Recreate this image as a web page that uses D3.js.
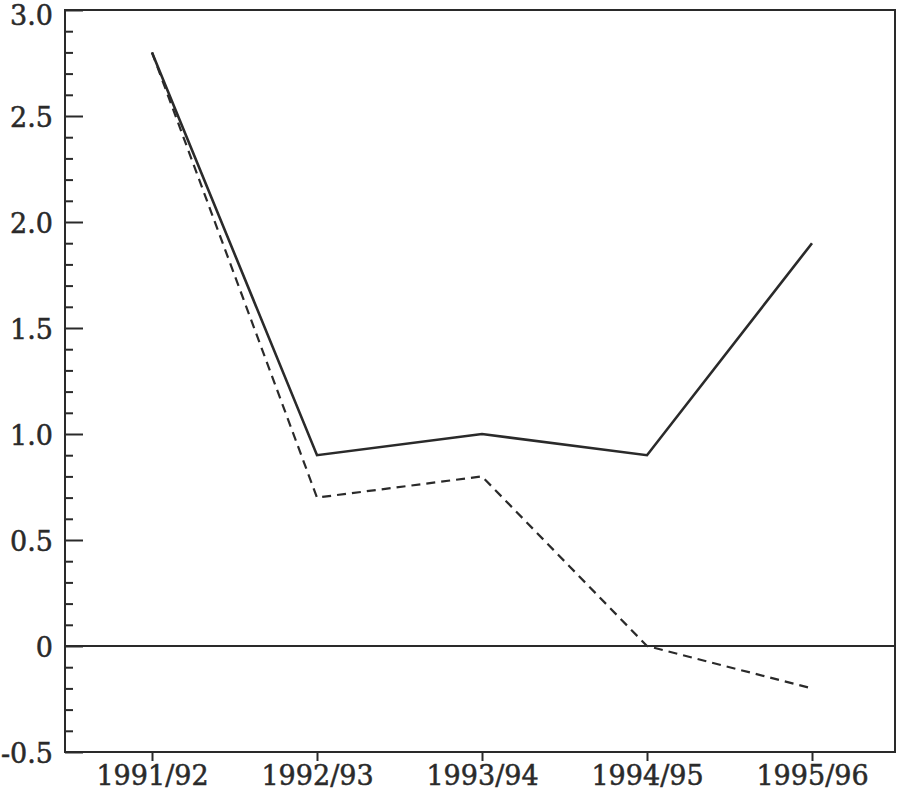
<!DOCTYPE html>
<html><head><meta charset="utf-8">
<script src="https://cdn.jsdelivr.net/npm/d3@7"></script>
<style>body{margin:0;background:#fff}svg{display:block}</style>
</head><body>
<svg id="c" width="897" height="797"></svg>
<script>
const categories = ["1991/92","1992/93","1993/94","1994/95","1995/96"];
const solidValues = [2.8, 0.9, 1.0, 0.9, 1.9];
const dashedValues = [2.8, 0.7, 0.8, 0.0, -0.2];
const yTickValues = [-0.5, 0, 0.5, 1.0, 1.5, 2.0, 2.5, 3.0];
const yTickLabels = ["-0.5","0","0.5","1.0","1.5","2.0","2.5","3.0"];

const svg = d3.select("#c");
const L = 65, R = 895, T = 10, B = 752;
const ink = "#2a2a2a";
const font = "'DejaVu Serif', serif";

const x = d3.scalePoint().domain(categories).range([152, 812]);
const y = d3.scaleLinear().domain([-0.5, 3.0]).range([B, T]);

// frame
svg.append("rect").attr("x", L).attr("y", T).attr("width", R - L).attr("height", B - T)
  .attr("fill", "none").attr("stroke", ink).attr("stroke-width", 2);

// y axis: major ticks inward with labels, minor ticks every 0.1
const yAxis = d3.axisRight(y).tickValues(yTickValues).tickSize(18)
  .tickFormat((d, i) => yTickLabels[i]);
const gy = svg.append("g").attr("transform", `translate(${L},0)`).call(yAxis);
gy.select(".domain").remove();
gy.selectAll(".tick line").attr("stroke", ink).attr("stroke-width", 2);
gy.selectAll(".tick text").attr("x", -12).attr("text-anchor", "end")
  .attr("font-family", font).attr("font-size", 27).attr("fill", ink)
  .attr("stroke", ink).attr("stroke-width", 0.5)
  .attr("dy", (d, i) => i === yTickValues.length - 1 ? "0.55em" : "0.4em");

const minor = d3.range(-4, 30).map(v => v / 10).filter(v => Math.abs(v * 2 - Math.round(v * 2)) > 1e-6);
const yMinor = d3.axisRight(y).tickValues(minor).tickSize(8).tickFormat("");
const gm = svg.append("g").attr("transform", `translate(${L},0)`).call(yMinor);
gm.select(".domain").remove();
gm.selectAll(".tick line").attr("stroke", ink).attr("stroke-width", 2);

// x axis: ticks outward
const xAxis = d3.axisBottom(x).tickSize(9).tickPadding(5);
const gx = svg.append("g").attr("transform", `translate(0,${B})`).call(xAxis);
gx.select(".domain").remove();
gx.selectAll(".tick line").attr("stroke", ink).attr("stroke-width", 2);
gx.selectAll(".tick text").attr("font-family", font).attr("font-size", 27).attr("fill", ink)
  .attr("stroke", ink).attr("stroke-width", 0.5);

// zero line
svg.append("line").attr("x1", L).attr("x2", R).attr("y1", y(0)).attr("y2", y(0))
  .attr("stroke", ink).attr("stroke-width", 2);

const line = d3.line().x((d, i) => x(categories[i])).y(d => y(d));

svg.append("path").datum(dashedValues).attr("d", line)
  .attr("fill", "none").attr("stroke", ink).attr("stroke-width", 2.2)
  .attr("stroke-dasharray", "9,6");
svg.append("path").datum(solidValues).attr("d", line)
  .attr("fill", "none").attr("stroke", ink).attr("stroke-width", 2.6);
</script>
</body></html>
